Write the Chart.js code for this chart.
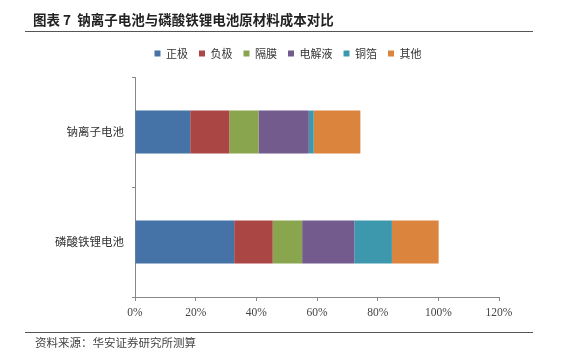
<!DOCTYPE html>
<html>
<head>
<meta charset="utf-8">
<script src="https://cdn.jsdelivr.net/npm/chart.js@4/dist/chart.umd.min.js"></script>
<style>
  html, body { margin: 0; padding: 0; background: #fff; }
  #wrap { position: relative; width: 570px; height: 356px; }
</style>
</head>
<body>
<div id="wrap"><canvas id="chart" width="570" height="356"></canvas></div>
<script>
// Chart data
const categories = ['钠离子电池', '磷酸铁锂电池'];
const seriesNames = ['正极', '负极', '隔膜', '电解液', '铜箔', '其他'];
const cathode = [18.2, 32.7];
const anode = [12.9, 12.7];
const separator = [9.6, 9.7];
const electrolyte = [16.6, 17.2];
const copperFoil = [1.6, 12.4];
const others = [15.4, 15.4];
const xTicks = [0, 20, 40, 60, 80, 100, 120];

const colors = ['#4572A7', '#AA4643', '#89A54E', '#745B8E', '#3D98AE', '#DB843D'];
const seriesValues = [cathode, anode, separator, electrolyte, copperFoil, others];

const cjk = '"Noto Sans CJK SC", "Noto Sans", sans-serif';
const serif = '"Liberation Serif", "DejaVu Serif", serif';

// title, rules and source note
const frame = {
    id: 'frame',
    beforeInit(chart) {
        const fit = chart.legend.fit;
        chart.legend.fit = function () {
            fit.call(this);
            this.height = 40;
        };
    },
    afterLayout(chart) {
        // centre the legend on the whole page, not only the padded area
        const lg = chart.legend;
        lg.left = 0;
        lg.right = 576;
        lg.width = 576;
    },
    afterDraw(chart) {
        const ctx = chart.ctx;
        ctx.save();
        ctx.fillStyle = '#222';
        ctx.font = 'bold 13.5px ' + cjk;
        ctx.textBaseline = 'middle';
        ctx.fillText('图表 7  钠离子电池与磷酸铁锂电池原材料成本对比', 33, 20);
        ctx.strokeStyle = '#555';
        ctx.lineWidth = 1;
        ctx.beginPath();
        ctx.moveTo(25, 31.5);
        ctx.lineTo(533, 31.5);
        ctx.moveTo(25, 332.5);
        ctx.lineTo(533, 332.5);
        ctx.stroke();
        ctx.fillStyle = '#444';
        ctx.font = '11.5px ' + cjk;
        ctx.fillText('资料来源：华安证券研究所测算', 35, 343);
        ctx.restore();
    }
};

const ctx = document.getElementById('chart');
new Chart(ctx, {
    type: 'bar',
    data: {
        labels: categories,
        datasets: seriesNames.map((name, i) => ({
            label: name,
            data: seriesValues[i],
            backgroundColor: colors[i],
            borderWidth: 0,
            categoryPercentage: 1,
            barPercentage: 0.39
        }))
    },
    options: {
        indexAxis: 'y',
        responsive: false,
        animation: false,
        layout: {
            padding: { left: 0, right: 71, top: 37, bottom: 0 }
        },
        plugins: {
            legend: {
                position: 'top',
                labels: {
                    boxWidth: 6,
                    boxHeight: 6,
                    padding: 11,
                    color: '#333',
                    font: { family: cjk, size: 11 }
                }
            },
            tooltip: { enabled: false }
        },
        scales: {
            x: {
                stacked: true,
                min: 0,
                max: 120,
                afterBuildTicks(scale) {
                    scale.ticks = xTicks.map(v => ({ value: v }));
                },
                afterFit(scale) {
                    scale.height = 59;
                },
                grid: {
                    display: true,
                    drawOnChartArea: false,
                    drawTicks: true,
                    tickLength: 4,
                    color: '#888'
                },
                border: { color: '#888' },
                ticks: {
                    padding: 5,
                    color: '#444',
                    font: { family: serif, size: 11.5 },
                    callback: v => v + '%'
                }
            },
            y: {
                stacked: true,
                afterFit(scale) {
                    scale.width = 135;
                },
                grid: {
                    display: true,
                    offset: true,
                    drawOnChartArea: false,
                    drawTicks: true,
                    tickLength: 3,
                    color: '#888'
                },
                border: { color: '#888' },
                ticks: {
                    padding: 8,
                    color: '#333',
                    font: { family: cjk, size: 11.5 }
                }
            }
        }
    },
    plugins: [frame]
});
</script>
</body>
</html>
